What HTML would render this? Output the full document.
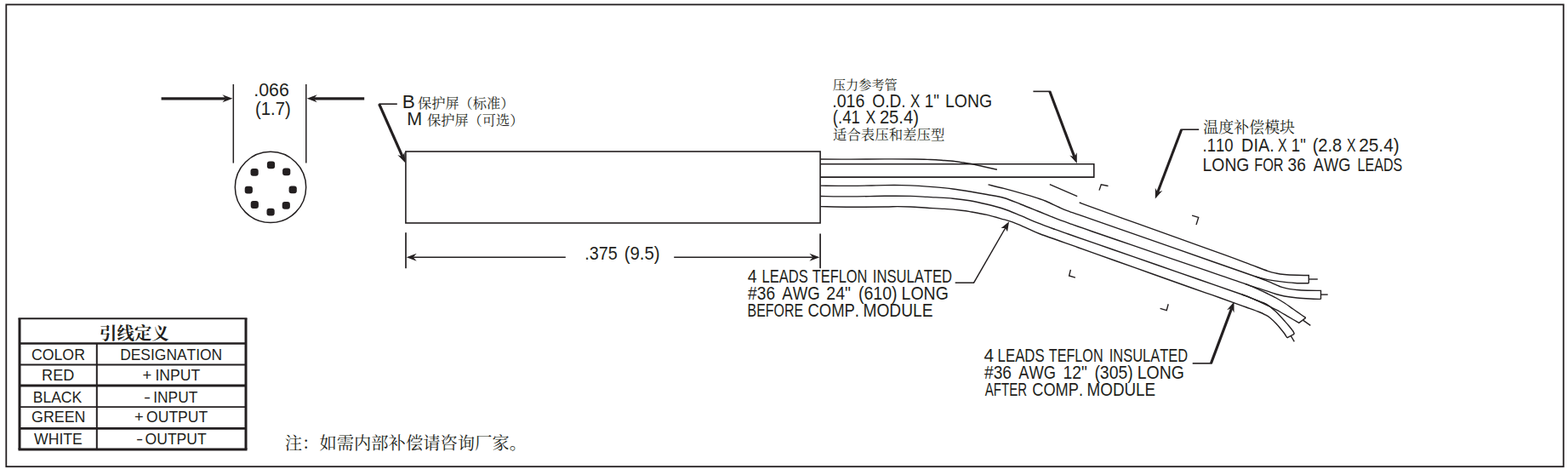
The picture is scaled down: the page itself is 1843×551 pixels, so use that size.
<!DOCTYPE html>
<html lang="zh"><head><meta charset="utf-8"><title>Sensor outline drawing</title>
<style>
html,body{margin:0;padding:0;background:#fff}
svg{display:block}
svg *{stroke:#231f20;fill:none}
svg text{font-family:"Liberation Sans",sans-serif;fill:#231f20;stroke:none;font-kerning:none}
svg .f{fill:#231f20;stroke:none}
svg text.cn{font-family:"Liberation Sans","Noto Serif CJK SC","Noto Sans CJK SC",serif;fill:#231f20;stroke:none}
svg title{display:none}
</style></head><body>
<svg width="1843" height="551" viewBox="0 0 1843 551">
<rect x="7.3" y="5.4" width="1830.4" height="542.8" stroke-width="1.8"/>
<polygon class="f" points="273.4,115.8 261.4,120.3 265.4,115.8 261.4,111.3"/>
<line x1="189.6" y1="115.8" x2="265.4" y2="115.8" stroke-width="3.2"/>
<polygon class="f" points="360.7,115.8 372.7,111.3 368.7,115.8 372.7,120.3"/>
<line x1="428.2" y1="115.8" x2="368.7" y2="115.8" stroke-width="3.2"/>
<line x1="274.3" y1="99" x2="274.3" y2="191.6" stroke-width="1.5"/>
<line x1="359.8" y1="99" x2="359.8" y2="191.6" stroke-width="1.5"/>
<circle cx="318" cy="219.9" r="41.7" stroke-width="1.5"/>
<rect class="f" x="313.9" y="189.5" width="9.2" height="8.8" rx="3"/>
<rect class="f" x="332.1" y="197.5" width="9.2" height="8.8" rx="3"/>
<rect class="f" x="339.6" y="218.5" width="9.2" height="8.8" rx="3"/>
<rect class="f" x="331.7" y="236.9" width="9.2" height="8.8" rx="3"/>
<rect class="f" x="313.5" y="244.8" width="9.2" height="8.8" rx="3"/>
<rect class="f" x="294.7" y="236.1" width="9.2" height="8.8" rx="3"/>
<rect class="f" x="287.7" y="218.7" width="9.2" height="8.8" rx="3"/>
<rect class="f" x="294.5" y="197.9" width="9.2" height="8.8" rx="3"/>
<text transform="translate(298.25 112.5) scale(0.9986 1)" font-size="21.4">.066</text>
<text transform="translate(300.04 135) scale(0.9481 1)" font-size="21.4">(1.7)</text>
<line x1="445.4" y1="122.2" x2="466.8" y2="122.2" stroke-width="1.6"/>
<polygon class="f" points="476.3,191.2 467.31,182.07 473.05,183.89 475.53,178.41"/>
<line x1="445.6" y1="122.2" x2="473.05" y2="183.89" stroke-width="3.2"/>
<text transform="translate(472.65 127.4) scale(1.0536 1)" font-size="21.4">B</text>
<text class="cn" x="491" y="127.3" font-size="16.2" textLength="113.4" lengthAdjust="spacingAndGlyphs">保护屏（标准）</text>
<text transform="translate(478.23 146.9) scale(1.0059 1)" font-size="21.4">M</text>
<text class="cn" x="502" y="147" font-size="16.2" textLength="113.4" lengthAdjust="spacingAndGlyphs">保护屏（可选）</text>
<rect x="476.9" y="178" width="487.2" height="84" stroke-width="1.6"/>
<line x1="477" y1="273.2" x2="477" y2="315.2" stroke-width="1.7"/>
<line x1="964.1" y1="274.6" x2="964.1" y2="315.2" stroke-width="1.7"/>
<polygon class="f" points="477.7,302.2 489.7,297.7 485.7,302.2 489.7,306.7"/>
<line x1="664.8" y1="302.2" x2="485.7" y2="302.2" stroke-width="1.6"/>
<polygon class="f" points="963.4,302.2 951.4,306.7 955.4,302.2 951.4,297.7"/>
<line x1="792.2" y1="302.2" x2="955.4" y2="302.2" stroke-width="1.6"/>
<text transform="translate(687.19 304.9) scale(0.9253 1)" font-size="21.4">.375</text>
<text transform="translate(733.64 304.9) scale(0.9529 1)" font-size="21.4">(9.5)</text>
<path d="M964.1 192.8H1285.8V208.1H964.1" stroke-width="1.6"/>
<path d="M964.5 187C970.42 187.02 987.42 187.12 1000 187.1C1012.58 187.08 1027.5 186.92 1040 186.9C1052.5 186.88 1066.67 186.92 1075 187C1083.33 187.08 1085.83 187.28 1090 187.4C1094.17 187.52 1096.67 187.52 1100 187.7C1103.33 187.88 1106.67 188.23 1110 188.5C1113.33 188.77 1116.67 188.93 1120 189.3C1123.33 189.67 1126.67 190.2 1130 190.7C1133.33 191.2 1135.83 191.5 1140 192.3C1144.17 193.1 1149.68 194.35 1155 195.5C1160.32 196.65 1169.08 198.58 1171.9 199.2" stroke-width="1.4"/>
<path d="M964.5 218.1C970.42 218.15 987.42 218.48 1000 218.4C1012.58 218.32 1030 217.73 1040 217.6C1050 217.47 1053.33 217.47 1060 217.6C1066.67 217.73 1073.33 218.02 1080 218.4C1086.67 218.78 1093.33 219.3 1100 219.9C1106.67 220.5 1113.33 221.15 1120 222C1126.67 222.85 1133.33 223.92 1140 225C1146.67 226.08 1153.33 227.25 1160 228.5C1166.67 229.75 1173.37 230.58 1180 232.5C1186.63 234.42 1193.17 237.42 1199.8 240C1206.43 242.58 1213.13 245.32 1219.8 248C1226.47 250.68 1233.15 253.53 1239.8 256.1C1246.45 258.67 1252.33 260.75 1259.7 263.4C1267.07 266.05 1272.45 268 1284 272C1295.55 276 1313.98 282.27 1328.97 287.4C1343.97 292.53 1358.96 297.67 1373.95 302.8C1388.94 307.93 1403.93 313.07 1418.93 318.2C1433.92 323.33 1453.74 329.9 1463.9 333.6C1474.06 337.3 1475.57 338.5 1479.9 340.4C1484.23 342.3 1486.58 343.4 1489.9 345C1493.22 346.6 1496.48 348.17 1499.8 350C1503.12 351.83 1506.47 353.83 1509.8 356C1513.13 358.17 1516.47 360.67 1519.8 363C1523.13 365.33 1527.3 368.27 1529.8 370C1532.3 371.73 1533.97 372.83 1534.8 373.4" stroke-width="1.4"/>
<path d="M964.5 230.5C970.42 230.57 987.42 230.93 1000 230.9C1012.58 230.87 1028.33 230.38 1040 230.3C1051.67 230.22 1061.7 230.22 1070 230.4C1078.3 230.58 1084.8 231.15 1089.8 231.4C1094.8 231.65 1094.97 231.6 1100 231.9C1105.03 232.2 1113.35 232.57 1120 233.2C1126.65 233.83 1133.25 234.57 1139.9 235.7C1146.55 236.83 1153.23 238.37 1159.9 240C1166.57 241.63 1173.25 243.27 1179.9 245.5C1186.55 247.73 1193.15 250.67 1199.8 253.4C1206.45 256.13 1213.13 259.23 1219.8 261.9C1226.47 264.57 1233.82 267.22 1239.8 269.4C1245.78 271.58 1244.54 271.11 1255.7 275C1266.86 278.89 1289.73 286.83 1306.75 292.75C1323.77 298.67 1340.78 304.58 1357.8 310.5C1374.82 316.42 1391.83 322.33 1408.85 328.25C1425.87 334.17 1448.89 342.07 1459.9 346C1470.91 349.93 1470.73 350.18 1474.9 351.8C1479.07 353.42 1482.07 354.42 1484.9 355.7C1487.73 356.98 1490.05 358.28 1491.9 359.5C1493.75 360.72 1494.68 361.87 1496 363C1497.32 364.13 1498.33 364.88 1499.8 366.3C1501.27 367.72 1503.13 369.72 1504.8 371.5C1506.47 373.28 1508.13 375.13 1509.8 377C1511.47 378.87 1513.13 380.7 1514.8 382.7C1516.47 384.7 1518.72 387.38 1519.8 389C1520.88 390.62 1521.05 391.83 1521.3 392.4" stroke-width="1.4"/>
<path d="M964.5 242.6C970.42 242.7 987.42 243.13 1000 243.2C1012.58 243.27 1030.87 243.1 1040 243C1049.13 242.9 1049.8 242.6 1054.8 242.6C1059.8 242.6 1064.13 242.73 1070 243C1075.87 243.27 1083.33 243.8 1090 244.2C1096.67 244.6 1103.33 244.9 1110 245.4C1116.67 245.9 1125 246.67 1130 247.2C1135 247.73 1135 247.73 1140 248.6C1145 249.47 1153.33 250.85 1160 252.4C1166.67 253.95 1175 256.48 1180 257.9C1185 259.32 1186.7 259.73 1190 260.9C1193.3 262.07 1196.5 263.48 1199.8 264.9C1203.1 266.32 1205.97 267.72 1209.8 269.4C1213.63 271.08 1213.25 271.44 1222.8 275C1232.35 278.56 1252.33 285.5 1267.1 290.75C1281.87 296 1296.63 301.25 1311.4 306.5C1326.17 311.75 1340.93 317 1355.7 322.25C1370.47 327.5 1388.45 333.93 1400 338C1411.55 342.07 1416.68 343.77 1425 346.7C1433.32 349.63 1443.25 353.22 1449.9 355.6C1456.55 357.98 1459.9 359.18 1464.9 361C1469.9 362.82 1476.22 365.03 1479.9 366.5C1483.58 367.97 1484.83 368.63 1487 369.8C1489.17 370.97 1490.77 371.8 1492.9 373.5C1495.03 375.2 1497.82 377.97 1499.8 380C1501.78 382.03 1503.13 383.7 1504.8 385.7C1506.47 387.7 1508.47 390.13 1509.8 392C1511.13 393.87 1512.3 396.08 1512.8 396.9" stroke-width="1.4"/>
<path d="M1161.5 216.9C1164.57 217.65 1173.52 219.73 1179.9 221.4C1186.28 223.07 1193.15 224.98 1199.8 226.9C1206.45 228.82 1214.8 231.3 1219.8 232.9C1224.8 234.5 1225.63 234.73 1229.8 236.5C1233.97 238.27 1240.68 241.65 1244.8 243.5C1248.92 245.35 1250.35 246.03 1254.5 247.6C1258.65 249.17 1264.78 251.18 1269.7 252.9C1274.62 254.62 1273.62 254.27 1284 257.9C1294.38 261.53 1315.98 269.08 1331.97 274.67C1347.97 280.27 1363.96 285.86 1379.95 291.45C1395.94 297.04 1411.93 302.63 1427.93 308.23C1443.92 313.82 1465.57 321.3 1475.9 325C1486.23 328.7 1485.92 328.8 1489.9 330.4C1493.88 332 1497.15 333.47 1499.8 334.6C1502.45 335.73 1503.3 336.4 1505.8 337.2C1508.3 338 1510.8 338.77 1514.8 339.4C1518.8 340.03 1523.52 340.67 1529.8 341C1536.08 341.33 1548.72 341.33 1552.5 341.4V351.4" stroke-width="1.4"/>
<path d="M1552.5 351.4C1550.38 351.33 1544.42 351.23 1539.8 351C1535.18 350.77 1529.8 350.5 1524.8 350C1519.8 349.5 1513.97 348.75 1509.8 348C1505.63 347.25 1503.12 346.47 1499.8 345.5C1496.48 344.53 1493.22 343.3 1489.9 342.2C1486.58 341.1 1483.23 339.97 1479.9 338.9C1476.57 337.83 1472.57 336.68 1469.9 335.8C1467.23 334.92 1464.9 333.97 1463.9 333.6" stroke-width="1.4"/>
<line x1="1552.6" y1="346.1" x2="1560.7" y2="346.1" stroke-width="1.4"/>
<path d="M1233.8 216.7 L1266.2 230.7" stroke-width="1.4"/>
<path d="M1268.7 238C1271.58 239.07 1274.52 240.25 1286 244.4C1297.48 248.55 1320.38 256.73 1337.57 262.9C1354.76 269.07 1371.94 275.23 1389.13 281.4C1406.32 287.57 1427.24 295 1440.7 299.9C1454.16 304.8 1461.7 307.73 1469.9 310.8C1478.1 313.87 1484.92 316.6 1489.9 318.3C1494.88 320 1496.48 320.3 1499.8 321C1503.12 321.7 1505.63 322.12 1509.8 322.5C1513.97 322.88 1520.05 323.13 1524.8 323.3C1529.55 323.47 1536.05 323.47 1538.3 323.5V332.7" stroke-width="1.4"/>
<path d="M1538.3 332.7C1536.05 332.7 1529.55 332.92 1524.8 332.7C1520.05 332.48 1514.8 331.95 1509.8 331.4C1504.8 330.85 1498.95 330.07 1494.8 329.4C1490.65 328.73 1488.05 328.13 1484.9 327.4C1481.75 326.67 1477.4 325.4 1475.9 325" stroke-width="1.4"/>
<line x1="1538.3" y1="328" x2="1548.8" y2="328" stroke-width="1.4"/>
<path d="M1534.8 373.4L1526.8 379.3C1524.8 378.15 1518.47 374.53 1514.8 372.4C1511.13 370.27 1508.13 368.32 1504.8 366.5C1501.47 364.68 1498.12 363.17 1494.8 361.5C1491.48 359.83 1488.22 358.08 1484.9 356.5C1481.58 354.92 1479.07 353.75 1474.9 352C1470.73 350.25 1462.4 347 1459.9 346" stroke-width="1.4"/>
<line x1="1531.8" y1="376.4" x2="1540.3" y2="382.4" stroke-width="1.4"/>
<line x1="1521.3" y1="392.4" x2="1512.8" y2="396.9" stroke-width="1.4"/>
<line x1="1517.3" y1="394.7" x2="1521.3" y2="401.4" stroke-width="1.4"/>
<polyline points="1292,223.6 1294.3,216.8 1302.5,218.5" stroke-width="1.4" stroke-linejoin="miter"/>
<polyline points="1401.1,253.2 1408.7,255.4 1406,264.1" stroke-width="1.4" stroke-linejoin="miter"/>
<polyline points="1258.4,316.8 1256.6,324 1263.9,326.2" stroke-width="1.4" stroke-linejoin="miter"/>
<polyline points="1363.6,362.4 1371.2,364.6 1373.2,357.3" stroke-width="1.4" stroke-linejoin="miter"/>
<text class="cn" x="978.8" y="105.2" font-size="15.2" textLength="76" lengthAdjust="spacingAndGlyphs">压力参考管</text>
<text transform="translate(978.21 125.6) scale(0.9160 1)" font-size="21.4">.016</text>
<text transform="translate(1025.29 125.6) scale(0.8946 1)" font-size="21.4">O.D.</text>
<text transform="translate(1070.02 125.6) scale(0.7944 1)" font-size="21.4">X</text>
<text transform="translate(1086.66 125.6) scale(0.8845 1)" font-size="21.4">1"</text>
<text transform="translate(1111 125.6) scale(0.9094 1)" font-size="21.4">LONG</text>
<text transform="translate(978.85 144.6) scale(0.8695 1)" font-size="21.4">(.41</text>
<text transform="translate(1017.5 144.6) scale(0.8244 1)" font-size="21.4">X</text>
<text transform="translate(1033.88 144.6) scale(0.9445 1)" font-size="21.4">25.4)</text>
<text class="cn" x="979" y="164.3" font-size="16.4" textLength="131.4" lengthAdjust="spacingAndGlyphs">适合表压和差压型</text>
<line x1="1214.4" y1="107.4" x2="1234.8" y2="107.4" stroke-width="1.6"/>
<polygon class="f" points="1265.8,192.1 1257.36,182.46 1262.98,184.61 1265.78,179.28"/>
<line x1="1233.8" y1="107.2" x2="1262.98" y2="184.61" stroke-width="3.1"/>
<text class="cn" x="1414.3" y="156.3" font-size="17.9" textLength="107.8" lengthAdjust="spacingAndGlyphs">温度补偿模块</text>
<text transform="translate(1413.52 178) scale(0.8621 1)" font-size="21.4">.110</text>
<text transform="translate(1459.07 178) scale(0.9285 1)" font-size="21.4">DIA.</text>
<text transform="translate(1501.94 178) scale(0.7419 1)" font-size="21.4">X</text>
<text transform="translate(1517.78 178) scale(0.8727 1)" font-size="21.4">1"</text>
<text transform="translate(1542.65 178) scale(0.9388 1)" font-size="21.4">(2.8</text>
<text transform="translate(1583.04 178) scale(0.7419 1)" font-size="21.4">X</text>
<text transform="translate(1597.15 178) scale(0.9747 1)" font-size="21.4">25.4)</text>
<text transform="translate(1413.61 201) scale(0.9041 1)" font-size="21.4">LONG</text>
<text transform="translate(1474.16 201) scale(0.7637 1)" font-size="21.4">FOR</text>
<text transform="translate(1513.57 201) scale(0.8935 1)" font-size="21.4">36</text>
<text transform="translate(1543.86 201) scale(0.8549 1)" font-size="21.4">AWG</text>
<text transform="translate(1595.48 201) scale(0.7533 1)" font-size="21.4">LEADS</text>
<line x1="1409.2" y1="152.2" x2="1388.2" y2="152.2" stroke-width="1.6"/>
<polygon class="f" points="1357.8,233.5 1357.86,220.68 1360.64,226.02 1366.27,223.88"/>
<line x1="1388.8" y1="152" x2="1360.64" y2="226.02" stroke-width="3.1"/>
<text transform="translate(878.75 331.6) scale(0.9088 1)" font-size="21.4">4</text>
<text transform="translate(895.44 331.6) scale(0.7740 1)" font-size="21.4">LEADS</text>
<text transform="translate(954.73 331.6) scale(0.7665 1)" font-size="21.4">TEFLON</text>
<text transform="translate(1025.77 331.6) scale(0.7771 1)" font-size="21.4">INSULATED</text>
<text transform="translate(879.12 352.2) scale(0.8941 1)" font-size="21.4">#36</text>
<text transform="translate(919.36 352.2) scale(0.8691 1)" font-size="21.4">AWG</text>
<text transform="translate(971.32 352.2) scale(0.9111 1)" font-size="21.4">24"</text>
<text transform="translate(1008.89 352.2) scale(0.9154 1)" font-size="21.4">(610)</text>
<text transform="translate(1059.6 352.2) scale(0.9111 1)" font-size="21.4">LONG</text>
<text transform="translate(878.59 371.9) scale(0.7443 1)" font-size="21.4">BEFORE</text>
<text transform="translate(949.46 371.9) scale(0.8628 1)" font-size="21.4">COMP.</text>
<text transform="translate(1014.43 371.9) scale(0.8967 1)" font-size="21.4">MODULE</text>
<line x1="1122.7" y1="332.2" x2="1145" y2="332.2" stroke-width="1.5"/>
<polygon class="f" points="1186.1,260.2 1184.08,272.31 1181.61,268 1176.63,268.02"/>
<line x1="1144.5" y1="332.4" x2="1181.61" y2="268" stroke-width="1.5"/>
<text transform="translate(1156.62 424.7) scale(0.9737 1)" font-size="21.4">4</text>
<text transform="translate(1172.62 424.7) scale(0.7844 1)" font-size="21.4">LEADS</text>
<text transform="translate(1232.84 424.7) scale(0.7555 1)" font-size="21.4">TEFLON</text>
<text transform="translate(1303.68 424.7) scale(0.7711 1)" font-size="21.4">INSULATED</text>
<text transform="translate(1157.02 444.6) scale(0.8941 1)" font-size="21.4">#36</text>
<text transform="translate(1197.26 444.6) scale(0.8549 1)" font-size="21.4">AWG</text>
<text transform="translate(1249.43 444.6) scale(0.9043 1)" font-size="21.4">12"</text>
<text transform="translate(1286.39 444.6) scale(0.9090 1)" font-size="21.4">(305)</text>
<text transform="translate(1336.7 444.6) scale(0.9111 1)" font-size="21.4">LONG</text>
<text transform="translate(1157.77 464.9) scale(0.7032 1)" font-size="21.4">AFTER</text>
<text transform="translate(1213.28 464.9) scale(0.8509 1)" font-size="21.4">COMP.</text>
<text transform="translate(1277.55 464.9) scale(0.8810 1)" font-size="21.4">MODULE</text>
<line x1="1401.7" y1="426.9" x2="1424" y2="426.9" stroke-width="1.6"/>
<polygon class="f" points="1450.5,354.6 1450.5,367.42 1447.69,362.09 1442.07,364.25"/>
<line x1="1423.3" y1="427.1" x2="1447.69" y2="362.09" stroke-width="3.1"/>
<path d="M23 374.2V528M289 374.2V528" stroke-width="3"/>
<line x1="21.5" y1="374.3" x2="290.5" y2="374.3" stroke-width="1.9"/>
<line x1="21.5" y1="528" x2="290.5" y2="528" stroke-width="3"/>
<line x1="23" y1="403.5" x2="289" y2="403.5" stroke-width="2.5"/>
<line x1="23" y1="428.5" x2="289" y2="428.5" stroke-width="1.8"/>
<line x1="23" y1="453" x2="289" y2="453" stroke-width="2.8"/>
<line x1="23" y1="478.2" x2="289" y2="478.2" stroke-width="1.8"/>
<line x1="23" y1="503.4" x2="289" y2="503.4" stroke-width="2.7"/>
<line x1="113.8" y1="403.5" x2="113.8" y2="528" stroke-width="2"/>
<text class="cn" x="117" y="398.5" font-size="20.4" font-weight="bold" textLength="81.8" lengthAdjust="spacingAndGlyphs">引线定义</text>
<text transform="translate(37 423.1) scale(0.9616 1)" font-size="18.4">COLOR</text>
<text transform="translate(141.17 423.1) scale(0.9478 1)" font-size="18.4">DESIGNATION</text>
<text transform="translate(49.12 447.4) scale(0.9819 1)" font-size="18.4">RED</text>
<text transform="translate(167.61 447.4) scale(0.9956 1)" font-size="18.4">+</text>
<text transform="translate(182.47 447.4) scale(0.9571 1)" font-size="18.4">INPUT</text>
<text transform="translate(38.66 472.6) scale(0.9553 1)" font-size="18.4">BLACK</text>
<text transform="translate(168.93 472.6) scale(1.3134 1)" font-size="18.4">-</text>
<text transform="translate(180.3 472.6) scale(0.9420 1)" font-size="18.4">INPUT</text>
<text transform="translate(37 496.4) scale(0.9713 1)" font-size="18.4">GREEN</text>
<text transform="translate(157.91 496.4) scale(0.9956 1)" font-size="18.4">+</text>
<text transform="translate(172.07 496.4) scale(0.9537 1)" font-size="18.4">OUTPUT</text>
<text transform="translate(40.02 521.7) scale(0.9588 1)" font-size="18.4">WHITE</text>
<text transform="translate(159.91 521.7) scale(1.3357 1)" font-size="18.4">-</text>
<text transform="translate(170.57 521.7) scale(0.9537 1)" font-size="18.4">OUTPUT</text>
<text class="cn" x="334.8" y="528.3" font-size="20.3" textLength="284.2" lengthAdjust="spacingAndGlyphs">注：如需内部补偿请咨询厂家。</text>
</svg>
</body></html>
